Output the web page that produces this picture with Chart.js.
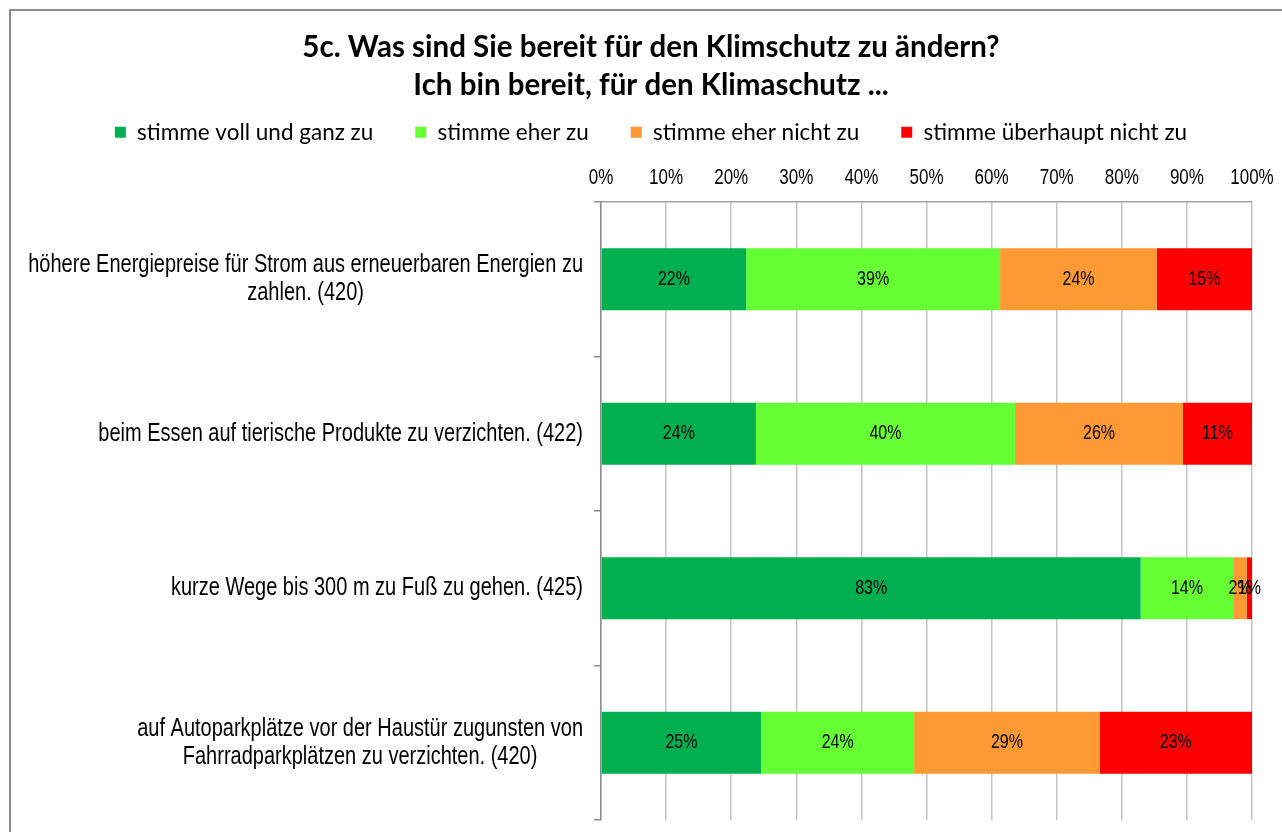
<!DOCTYPE html>
<html>
<head>
<meta charset="utf-8">
<script src="https://cdn.jsdelivr.net/npm/chart.js@4/dist/chart.umd.min.js"></script>
<style>
  html, body { margin: 0; padding: 0; background: #fff; overflow: hidden; }
  #frame {
    position: absolute; left: 9px; top: 9px;
    width: 1300px; height: 850px;
    border: 2px solid #8c8c8c;
    background: #fff;
  }
  #chart { display: block; }
</style>
</head>
<body>
<div id="frame">
  <canvas id="chart" width="1280" height="821"></canvas>
</div>
<script>
// ===== Daten =====
const categories = [
    ['höhere Energiepreise für Strom aus erneuerbaren Energien zu', 'zahlen. (420)'],
    ['beim Essen auf tierische Produkte zu verzichten. (422)'],
    ['kurze Wege bis 300 m zu Fuß zu gehen. (425)'],
    ['auf Autoparkplätze vor der Haustür zugunsten von', 'Fahrradparkplätzen zu verzichten. (420)']
];
const seriesNames = ['stimme voll und ganz zu', 'stimme eher zu', 'stimme eher nicht zu', 'stimme überhaupt nicht zu'];
const vollUndGanz = [22.3, 23.8, 82.9, 24.6];
const eherZu      = [39.0, 39.8, 14.2, 23.5];
const eherNicht   = [24.1, 25.8, 2.1, 28.5];
const ueberhaupt  = [14.6, 10.6, 0.8, 23.4];
const xTicks = [0, 10, 20, 30, 40, 50, 60, 70, 80, 90, 100];

const colors = ['#00B050', '#66FF33', '#FF9933', '#FF0000'];
const ARIAL = "'Liberation Sans', Arial, sans-serif";
const CALIBRI = "Lato, 'Open Sans', sans-serif";
const STRETCH = 1.3; // Schrift im Original ist vertikal gestreckt

Chart.defaults.font.family = ARIAL;
Chart.defaults.color = '#000';

function stretchedText(ctx, text, x, y) {
    ctx.save();
    ctx.translate(x, y);
    ctx.scale(1, STRETCH);
    ctx.fillText(text, 0, 0);
    ctx.restore();
}

// ===== Kategorie- und Achsenbeschriftungen =====
const axisLabels = {
    id: 'axisLabels',
    afterDraw(chart) {
        const ctx = chart.ctx;
        const y = chart.scales.y;
        const x = chart.scales.x;
        const right = chart.chartArea.left - 18;
        ctx.save();
        ctx.fillStyle = '#000';
        ctx.textAlign = 'center';
        ctx.textBaseline = 'middle';
        ctx.font = '20px ' + ARIAL;
        categories.forEach((lines, i) => {
            const maxW = Math.max(...lines.map(l => ctx.measureText(l).width));
            const cx = right - maxW / 2;
            const cy = y.getPixelForValue(i);
            lines.forEach((l, j) => {
                stretchedText(ctx, l, cx, cy + (j - (lines.length - 1) / 2) * 28);
            });
        });
        ctx.font = '17px ' + ARIAL;
        xTicks.forEach(v => {
            stretchedText(ctx, v + '%', x.getPixelForValue(v), chart.chartArea.top - 24);
        });
        ctx.restore();
    }
};

// ===== Datenbeschriftungen in den Balken =====
const barLabels = {
    id: 'barLabels',
    afterDatasetsDraw(chart) {
        const ctx = chart.ctx;
        ctx.save();
        ctx.font = '16px ' + ARIAL;
        ctx.fillStyle = '#000';
        ctx.textAlign = 'center';
        ctx.textBaseline = 'middle';
        chart.data.datasets.forEach((ds, di) => {
            chart.getDatasetMeta(di).data.forEach((el, i) => {
                stretchedText(ctx, Math.round(ds.data[i]) + '%', (el.x + el.base) / 2, el.y);
            });
        });
        ctx.restore();
    }
};

const datasets = [vollUndGanz, eherZu, eherNicht, ueberhaupt].map((d, i) => ({
    label: seriesNames[i],
    data: d,
    backgroundColor: colors[i],
    borderWidth: 0,
    barPercentage: 0.4,
    categoryPercentage: 1
}));

new Chart(document.getElementById('chart'), {
    type: 'bar',
    data: { labels: categories.map(c => c.join(' ')), datasets },
    options: {
        indexAxis: 'y',
        responsive: false,
        animation: false,
        layout: { padding: { left: 39, right: 39, top: 0, bottom: 12 } },
        plugins: {
            title: {
                display: true,
                text: ['5c. Was sind Sie bereit für den Klimschutz zu ändern?', 'Ich bin bereit, für den Klimaschutz ...'],
                font: { family: CALIBRI, size: 29.5, weight: 'bold', lineHeight: 1.29 },
                color: '#000',
                padding: { top: 17, bottom: -25 }
            },
            legend: {
                display: true,
                position: 'top',
                labels: {
                    boxWidth: 11,
                    boxHeight: 11,
                    padding: 42,
                    font: { family: CALIBRI, size: 22.5 },
                    color: '#000'
                }
            },
            tooltip: { enabled: false }
        },
        scales: {
            x: {
                position: 'top',
                stacked: true,
                min: 0,
                max: 100,
                afterBuildTicks: s => { s.ticks = xTicks.map(v => ({ value: v })); },
                ticks: { callback: v => v + '%', font: { size: 17 }, padding: 14, color: 'rgba(0,0,0,0)' },
                grid: { color: '#c4c4c4', lineWidth: 1.5, drawTicks: false },
                border: { color: '#a0a0a0', width: 1.5 }
            },
            y: {
                stacked: true,
                afterFit: s => { s.width = 551; },
                ticks: { display: false },
                grid: { offset: true, drawOnChartArea: false, drawTicks: true, tickLength: 7, color: '#8c8c8c', lineWidth: 1.5 },
                border: { color: '#8c8c8c', width: 1.5 }
            }
        }
    },
    plugins: [axisLabels, barLabels]
});
</script>
</body>
</html>
